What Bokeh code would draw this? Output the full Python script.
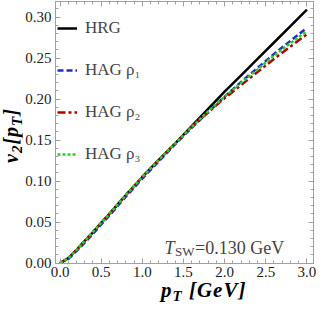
from bokeh.plotting import figure
from bokeh.layouts import row, column
from bokeh.models import (Range1d, LinearAxis, Label, Legend, LegendItem, Div,
                          FixedTicker, CustomJSTickFormatter, PrintfTickFormatter)
from bokeh.embed import file_html
from bokeh.resources import INLINE

# ---- data ----
pt = [0.0, 0.1, 0.2, 0.3, 0.4, 0.5, 0.6, 0.8, 1.0, 1.2, 1.4, 1.6, 1.8, 2.0,
      2.2, 2.4, 2.6, 2.8, 3.0]
v2_hrg = [0.0, 0.006, 0.016, 0.027, 0.0375, 0.049, 0.060, 0.083, 0.105, 0.126,
          0.146, 0.167, 0.188, 0.209, 0.229, 0.249, 0.269, 0.289, 0.309]
v2_rho1 = [0.0, 0.005, 0.0145, 0.025, 0.0355, 0.047, 0.058, 0.081, 0.103, 0.124,
           0.145, 0.165, 0.184, 0.203, 0.221, 0.238, 0.255, 0.271, 0.287]
v2_rho2 = [0.0, 0.006, 0.016, 0.027, 0.038, 0.049, 0.060, 0.083, 0.105, 0.126,
           0.146, 0.166, 0.184, 0.201, 0.217, 0.233, 0.249, 0.264, 0.279]
v2_rho3 = [0.0, 0.006, 0.016, 0.027, 0.038, 0.049, 0.060, 0.083, 0.105, 0.126,
           0.146, 0.166, 0.185, 0.203, 0.220, 0.236, 0.253, 0.268, 0.283]

series_names = ["HRG", "HAG \u03c1\u2081", "HAG \u03c1\u2082", "HAG \u03c1\u2083"]

x_ticks = [0.0, 0.5, 1.0, 1.5, 2.0, 2.5, 3.0]
x_tick_labels = ["0.0", "0.5", "1.0", "1.5", "2.0", "2.5", "3.0"]
y_ticks = [0.0, 0.05, 0.1, 0.15, 0.2, 0.25, 0.3]
y_tick_labels = ["0.00", "0.05", "0.10", "0.15", "0.20", "0.25", "0.30"]
x_minor = [round(i * 0.1, 1) for i in range(31)]
y_minor = [round(i * 0.01, 2) for i in range(32)]

# ---- figure ----
AX = "#a0a0a0"
SERIF = "'Liberation Serif'"
YT_W = 22

p = figure(width=316 - YT_W, height=282, output_backend="svg", toolbar_location=None,
           x_range=Range1d(-0.055, 3.08), y_range=Range1d(-0.0005, 0.319),
           min_border_left=28, min_border_right=3, min_border_top=1,
           min_border_bottom=19)
p.grid.visible = False
p.outline_line_color = AX
p.background_fill_color = "white"
p.border_fill_color = "white"


def style(ax):
    ax.axis_line_color = AX
    ax.major_tick_line_color = AX
    ax.minor_tick_line_color = AX
    ax.major_tick_in = 5
    ax.major_tick_out = 0
    ax.minor_tick_in = 3
    ax.minor_tick_out = 0
    ax.major_label_text_font = SERIF
    ax.major_label_text_font_size = "15px"
    ax.major_label_text_color = "#222222"
    ax.major_label_standoff = 4


xb = p.xaxis[0]
yl = p.yaxis[0]
style(xb)
style(yl)
xb.major_label_standoff = 3
xb.ticker = FixedTicker(ticks=x_ticks, minor_ticks=x_minor)
xb.formatter = PrintfTickFormatter(format="%.1f")
xb.major_label_overrides = dict(zip(x_ticks, x_tick_labels))
yl.ticker = FixedTicker(ticks=y_ticks, minor_ticks=y_minor)
yl.formatter = PrintfTickFormatter(format="%.2f")
yl.major_label_overrides = dict(zip(y_ticks, y_tick_labels))

xt = LinearAxis(ticker=FixedTicker(ticks=x_ticks, minor_ticks=x_minor),
                formatter=CustomJSTickFormatter(code="return ''"))
yr = LinearAxis(ticker=FixedTicker(ticks=y_ticks, minor_ticks=y_minor),
                formatter=CustomJSTickFormatter(code="return ''"))
for ax in (xt, yr):
    style(ax)
    ax.major_label_standoff = 0
p.add_layout(xt, "above")
p.add_layout(yr, "right")

# ---- curves ----
r0 = p.line(pt, v2_hrg, line_color="black", line_width=2.5)
r1 = p.line(pt, v2_rho1, line_color="#1c2fc8", line_width=2.5, line_dash="6 3")
r2 = p.line(pt, v2_rho2, line_color="#b50000", line_width=2.5, line_dash="8 3 3 3")
r3 = p.line(pt, v2_rho3, line_color="#2bcc2b", line_width=2.5, line_dash="3 2")

legend = Legend(items=[LegendItem(label=series_names[i], renderers=[r])
                       for i, r in enumerate([r0, r1, r2, r3])],
                location=(2, 99))
legend.label_text_font = SERIF
legend.label_text_font_size = "17px"
legend.background_fill_alpha = 0
legend.border_line_color = None
legend.glyph_width = 20
legend.glyph_height = 20
legend.label_height = 20
legend.spacing = 22
legend.padding = 5
legend.margin = 0
legend.label_standoff = 8
p.add_layout(legend)

# ---- T_SW annotation ----
AB = "alphabetic"
TX, TY = 1.27, 0.019
p.add_layout(Label(x=TX, y=TY, text="T", text_font=SERIF, text_baseline=AB,
                   text_font_style="italic", text_font_size="18px"))
p.add_layout(Label(x=TX, y=TY, x_offset=10.5, y_offset=-4, text="SW",
                   text_baseline=AB, text_font=SERIF, text_font_size="13px"))
p.add_layout(Label(x=TX, y=TY, x_offset=30.5, text="=0.130 GeV",
                   text_baseline=AB, text_font=SERIF, text_font_size="18px"))

# ---- axis titles as rich text ----
FONT = ("font-family:'Liberation Serif',serif;font-weight:bold;font-style:italic;"
        "letter-spacing:1px;color:#000;")
SUB = "font-size:15px;vertical-align:-4px;"

y_title = Div(
    width=YT_W, height=282, margin=0,
    text=('<div style="position:relative;width:%dpx;height:282px;">' % YT_W +
          '<div style="position:absolute;left:0px;top:163px;white-space:nowrap;'
          'transform:rotate(-90deg);transform-origin:left top;line-height:22px;'
          + FONT + 'font-size:20px;">'
          'v<span style="' + SUB + '">2</span>[p<span style="' + SUB + '">T</span>]'
          '</div></div>'))

x_title = Div(
    width=316, height=20, margin=0,
    text=('<div style="position:relative;width:316px;height:20px;">'
          '<div style="position:absolute;left:161px;top:-2px;white-space:nowrap;'
          'line-height:20px;' + FONT + 'font-size:21px;">'
          'p<span style="' + SUB + '">T</span> [GeV]'
          '</div></div>'))

layout = column(row(y_title, p, spacing=0), x_title, spacing=0)

open("out.html", "w").write(file_html(layout, INLINE))
